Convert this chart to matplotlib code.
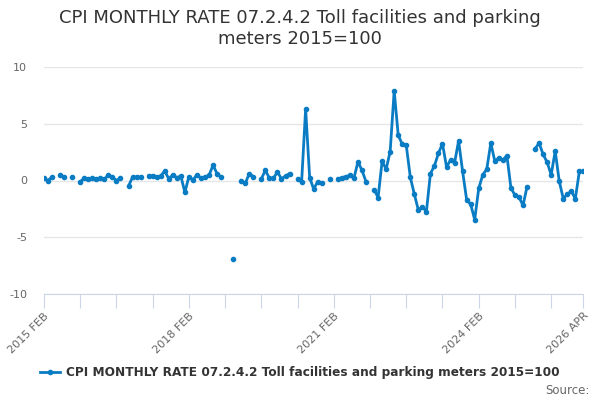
import numpy as np
import pandas as pd
import matplotlib
matplotlib.use("Agg")
from matplotlib import pyplot as plt

plt.rcParams["axes.unicode_minus"] = False

nan = np.nan

# monthly periods, 2015 FEB .. 2026 APR
months = pd.period_range("2015-02", "2026-04", freq="M")

rate = [
    0.2, 0.0, 0.3, nan, 0.5, 0.3, nan, 0.35, nan, -0.1,
    0.2, 0.15, 0.2, 0.15, 0.2, 0.1, 0.5, 0.3, 0.0, 0.2,
    nan, -0.5, 0.3, 0.3, 0.3, nan, 0.4, 0.4, 0.3, 0.4,
    0.85, 0.15, 0.5, 0.25, 0.4, -1.05, 0.35, 0.05, 0.5, 0.2,
    0.3, 0.45, 1.35, 0.6, 0.3, nan, nan, -6.9, nan, 0.0,
    -0.25, 0.6, 0.35, nan, 0.15, 0.9, 0.2, 0.2, 0.75, 0.15,
    0.4, 0.6, nan, 0.15, -0.15, 6.3, 0.25, -0.75, -0.1, -0.25,
    nan, 0.15, nan, 0.15, 0.25, 0.35, 0.45, 0.2, 1.65, 0.9,
    -0.1, nan, -0.8, -1.5, 1.7, 1.0, 2.55, 7.9, 4.0, 3.2,
    3.1, 0.3, -1.2, -2.6, -2.3, -2.75, 0.6, 1.3, 2.4, 3.25,
    1.2, 1.8, 1.55, 3.5, 0.8, -1.7, -2.1, -3.45, -0.7, 0.5,
    1.0, 3.3, 1.7, 2.0, 1.8, 2.2, -0.65, -1.3, -1.45, -2.2,
    -0.55, nan, 2.8, 3.3, 2.3, 1.6, 0.5, 2.6, -0.05, -1.6,
    -1.2, -0.95, -1.6, 0.8, 0.8,
]

title = "CPI MONTHLY RATE 07.2.4.2 Toll facilities and parking\nmeters 2015=100"
series_name = "CPI MONTHLY RATE 07.2.4.2 Toll facilities and parking meters 2015=100"

tick_pos = list(range(0, len(months), 9)) + [len(months) - 1]
label_pos = [0, 36, 72, 108, len(months) - 1]

blue = "#0a7cc4"
grey = "#666666"

fig = plt.figure(figsize=(6, 4), dpi=100)
ax = fig.add_axes([0.0733, 0.265, 0.899, 0.5675])

x = np.arange(len(months))
ax.plot(x, rate, color=blue, lw=2, marker="o", ms=3, label=series_name)

ax.set_xlim(0, len(months) - 1)
ax.set_ylim(-10, 10)
ax.set_yticks([-10, -5, 0, 5, 10])
ax.grid(axis="y", color="#e6e6e6", lw=1)
ax.set_axisbelow(True)
for s in ["top", "right", "left"]:
    ax.spines[s].set_visible(False)
ax.spines["bottom"].set_color("#ccd6eb")
ax.tick_params(axis="y", length=0, pad=12, labelsize=8, labelcolor=grey)

ax.set_xticks(tick_pos)
ax.set_xticklabels([
    f"{months[p].year} {months[p].strftime('%b').upper()}" if p in label_pos else ""
    for p in tick_pos
])
ax.tick_params(axis="x", length=10, color="#ccd6eb", labelsize=8, labelcolor=grey, pad=2)
for lab in ax.get_xticklabels():
    lab.set_rotation(45)
    lab.set_ha("right")
    lab.set_va("top")
    lab.set_rotation_mode("anchor")

fig.text(0.5, 0.978, title, ha="center", va="top", fontsize=13, color="#333333",
         linespacing=1.2)

fig.legend(loc="center", bbox_to_anchor=(0.5, 0.068), frameon=False,
           handlelength=1.6, handletextpad=0.5,
           prop={"size": 8.7, "weight": "bold"}, labelcolor="#333333")

fig.text(0.982, 0.025, "Source:", ha="right", va="center", fontsize=8.5, color=grey)

fig.savefig("out.png", dpi=100)
